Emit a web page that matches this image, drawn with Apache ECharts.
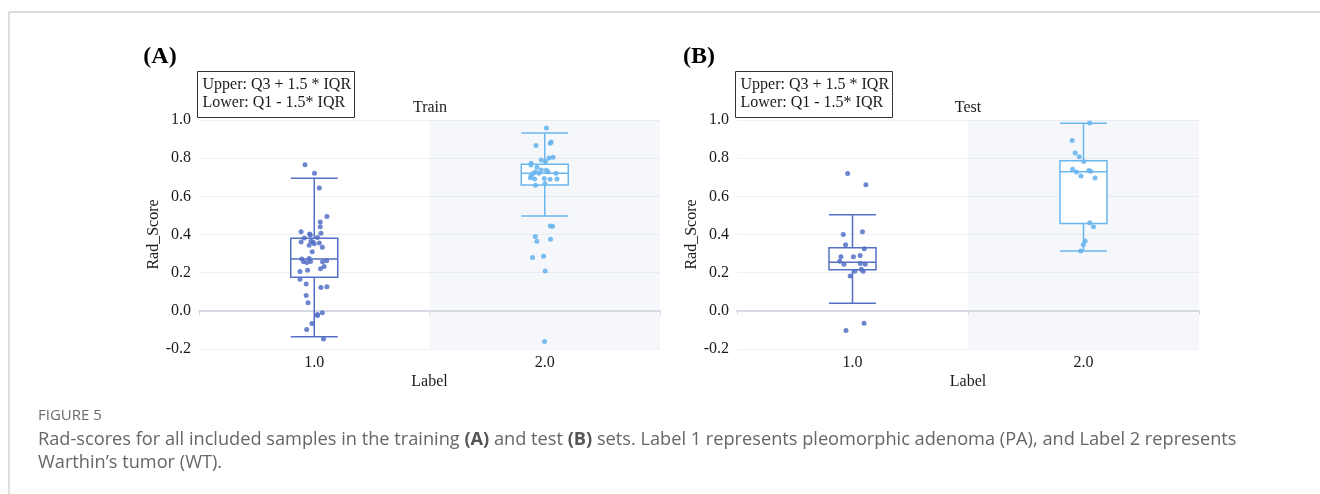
<!DOCTYPE html>
<html>
<head>
<meta charset="utf-8">
<script src="https://cdn.jsdelivr.net/npm/echarts@6/dist/echarts.min.js"></script>
<style>
html,body{margin:0;padding:0;background:#fff;}
#chart{width:1320px;height:494px;}
</style>
</head>
<body>
<div id="chart"></div>
<script>
// ---------- data ----------
const categories = ['1.0', '2.0'];
const yTicks = { min: -0.2, max: 1.0, interval: 0.2 };

// boxplot stats [lower whisker, Q1, median, Q3, upper whisker]
const trainBox = [[-0.136, 0.176, 0.271, 0.381, 0.695], [0.497, 0.660, 0.721, 0.768, 0.932]];
const testBox  = [[0.040, 0.215, 0.255, 0.330, 0.504], [0.314, 0.457, 0.729, 0.787, 0.983]];

// individual samples (Rad_Score) and their horizontal jitter (in label units)
const trainPA = [0.766,0.721,0.644,0.494,0.466,0.441,0.407,0.415,0.403,0.398,0.384,0.382,0.361,0.365,0.361,0.356,0.351,0.344,0.333,0.309,0.274,0.271,0.257,0.253,0.258,0.257,0.263,0.232,0.220,0.213,0.206,0.166,0.141,0.122,0.126,0.080,0.042,-0.010,-0.019,-0.025,-0.066,-0.098,-0.147];
const trainPAJitter = [-0.040,0.001,0.022,0.055,0.026,0.026,0.029,-0.057,-0.020,-0.017,0.014,-0.043,-0.057,-0.014,-0.006,0.022,0.000,-0.022,0.035,-0.009,-0.022,-0.054,-0.046,-0.032,-0.016,0.036,0.054,0.043,0.027,-0.029,-0.062,-0.062,-0.035,0.029,0.055,-0.035,-0.027,0.035,0.014,0.014,-0.010,-0.033,0.040];
const trainWT = [0.958,0.885,0.878,0.867,0.805,0.801,0.791,0.782,0.773,0.764,0.752,0.738,0.737,0.728,0.728,0.721,0.721,0.721,0.710,0.698,0.691,0.693,0.689,0.691,0.658,0.667,0.445,0.443,0.389,0.365,0.375,0.279,0.286,0.209,-0.161];
const trainWTJitter = [0.007,0.028,0.024,-0.038,0.036,0.018,-0.015,0.003,-0.059,-0.060,-0.034,-0.015,0.007,0.015,-0.040,-0.049,-0.025,0.049,-0.059,-0.062,-0.044,-0.002,0.023,0.053,-0.040,0.001,0.024,0.034,-0.041,-0.034,0.025,-0.053,-0.005,0.002,-0.001];
const testPA = [0.719,0.661,0.400,0.415,0.346,0.325,0.284,0.284,0.290,0.260,0.244,0.248,0.244,0.218,0.208,0.208,0.183,-0.103,-0.065];
const testPAJitter = [-0.021,0.058,-0.040,0.043,-0.030,0.051,-0.050,0.004,0.033,-0.055,-0.037,0.034,0.055,0.038,0.046,0.010,-0.010,-0.028,0.050];
const testWT = [0.984,0.892,0.827,0.808,0.782,0.742,0.728,0.735,0.731,0.707,0.696,0.462,0.441,0.366,0.346,0.314];
const testWTJitter = [0.027,-0.049,-0.036,-0.018,0.001,-0.047,-0.030,0.023,0.031,-0.011,0.050,0.027,0.043,0.007,-0.001,-0.012];

const panelTitles = ['Train', 'Test'];
const panelTags = ['(A)', '(B)'];
const legendLines = ['Upper: Q3 + 1.5 * IQR', 'Lower: Q1 - 1.5* IQR'];
const captionHead = 'FIGURE 5';
const captionLine1 = 'Rad-scores for all included samples in the training {b|(A)} and test {b|(B)} sets. Label 1 represents pleomorphic adenoma (PA), and Label 2 represents';
const captionLine2 = 'Warthin\u2019s tumor (WT).';

// ---------- style ----------
const C1 = '#5470c6';
const C2 = '#6ab6ee';
const SERIF = '"Liberation Serif", "Times New Roman", serif';
const SANS = '"Open Sans", "Noto Sans", sans-serif';

const grids = [
  { left: 199, top: 120, width: 461, height: 229 },
  { left: 737, top: 120, width: 462, height: 229 }
];

function toPoints(values, jitter, base) {
  return values.map((v, i) => [base + jitter[i], v]);
}

const xAxes = [], yAxes = [], series = [];
const boxes = [trainBox, testBox];
const pts = [
  [toPoints(trainPA, trainPAJitter, 1), toPoints(trainWT, trainWTJitter, 2)],
  [toPoints(testPA, testPAJitter, 1), toPoints(testWT, testWTJitter, 2)]
];

grids.forEach((g, k) => {
  // axis with zero line, boundary ticks and split area
  xAxes.push({
    type: 'category', gridIndex: k, data: categories, position: 'bottom',
    axisLine: { show: true, onZero: true, lineStyle: { color: '#d8dae3', width: 2 } },
    axisTick: { show: true, length: 4, lineStyle: { color: '#d8dae3' } },
    axisLabel: { show: false },
    splitLine: { show: false },
    splitArea: { show: true, areaStyle: { color: ['rgba(255,255,255,0)', 'rgba(210,219,238,0.22)'] } }
  });
  // bottom label axis
  xAxes.push({
    type: 'category', gridIndex: k, data: categories, position: 'bottom',
    axisLine: { show: false, onZero: false }, axisTick: { show: false },
    axisLabel: { show: true, margin: 6, fontFamily: SERIF, fontSize: 16, color: '#1a1a1a' },
    name: 'Label', nameLocation: 'middle', nameGap: 25,
    nameTextStyle: { fontFamily: SERIF, fontSize: 16, color: '#1a1a1a' }
  });
  // hidden value axis for jittered samples
  xAxes.push({ type: 'value', gridIndex: k, min: 0.5, max: 2.5, show: false });

  yAxes.push({
    type: 'value', gridIndex: k, min: yTicks.min, max: yTicks.max, interval: yTicks.interval,
    axisLine: { show: false }, axisTick: { show: false },
    axisLabel: { margin: 8, fontFamily: SERIF, fontSize: 16, color: '#1a1a1a', formatter: v => v.toFixed(1) },
    splitLine: { lineStyle: { color: '#eef0f5', width: 1 } },
    name: 'Rad_Score', nameLocation: 'middle', nameGap: 34, nameRotate: 90,
    nameTextStyle: { fontFamily: SERIF, fontSize: 16, color: '#1a1a1a' }
  });

  series.push({
    type: 'boxplot', xAxisIndex: 3 * k + 1, yAxisIndex: k,
    boxWidth: [47, 47],
    data: boxes[k].map((b, i) => ({
      value: b,
      itemStyle: { color: '#fff', borderColor: i === 0 ? C1 : C2, borderWidth: 1.5 }
    })),
    z: 2
  });
  series.push({
    type: 'scatter', xAxisIndex: 3 * k + 2, yAxisIndex: k, data: pts[k][0],
    symbolSize: 5, itemStyle: { color: C1, opacity: 0.85 }, z: 5
  });
  series.push({
    type: 'scatter', xAxisIndex: 3 * k + 2, yAxisIndex: k, data: pts[k][1],
    symbolSize: 5, itemStyle: { color: C2, opacity: 0.9 }, z: 5
  });
});

const graphic = [
  { type: 'line', shape: { x1: 9, y1: 12, x2: 1320, y2: 12 }, style: { stroke: '#d2d2d2', lineWidth: 1.5 } },
  { type: 'line', shape: { x1: 9, y1: 12, x2: 9, y2: 494 }, style: { stroke: '#d2d2d2', lineWidth: 1.5 } }
];
const tagX = [160, 699];
const titleX = [430, 968];
const boxX = [197.5, 735.5];
[0, 1].forEach(k => {
  graphic.push({ type: 'text', x: tagX[k], y: 57, style: { text: panelTags[k], font: 'bold 24px ' + SERIF, fill: '#000', align: 'center', verticalAlign: 'middle' } });
  graphic.push({ type: 'text', x: titleX[k], y: 108, style: { text: panelTitles[k], font: '16px ' + SERIF, fill: '#1a1a1a', align: 'center', verticalAlign: 'middle' } });
  graphic.push({ type: 'rect', shape: { x: boxX[k], y: 71.5, width: 157, height: 46 }, style: { fill: '#fff', stroke: '#333', lineWidth: 1 }, z: 10 });
  legendLines.forEach((t, j) => {
    graphic.push({ type: 'text', x: boxX[k] + 5, y: 85 + j * 18, style: { text: t, font: '16px ' + SERIF, fill: '#1a1a1a', align: 'left', verticalAlign: 'middle' }, z: 11 });
  });
});
graphic.push({ type: 'text', x: 38, y: 416, style: { text: captionHead, font: '15px ' + SANS, fill: '#6b6b6b', align: 'left', verticalAlign: 'middle' } });
graphic.push({ type: 'text', x: 38, y: 440, style: {
  text: captionLine1, fontFamily: SANS, fontSize: 18.2, fill: '#666', align: 'left', verticalAlign: 'middle',
  rich: { b: { fontFamily: SANS, fontSize: 18.2, fontWeight: 'bold', fill: '#555' } }
} });
graphic.push({ type: 'text', x: 38, y: 463, style: { text: captionLine2, fontFamily: SANS, fontSize: 18.2, fill: '#666', align: 'left', verticalAlign: 'middle' } });

const chart = echarts.init(document.getElementById('chart'), null, { renderer: 'canvas' });
chart.setOption({
  animation: false,
  backgroundColor: '#fff',
  grid: grids.map(g => Object.assign({ containLabel: false }, g)),
  xAxis: xAxes,
  yAxis: yAxes,
  series: series,
  graphic: graphic
});
</script>
</body>
</html>
